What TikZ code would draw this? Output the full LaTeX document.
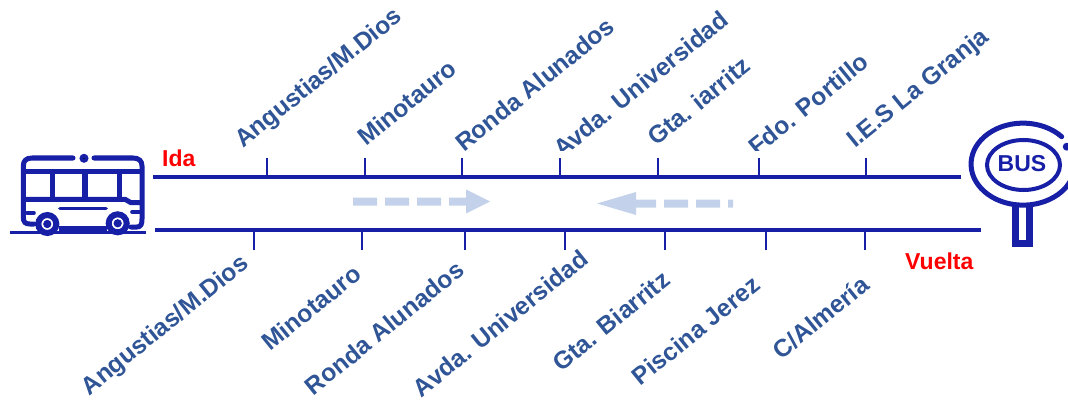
\documentclass[tikz,border=0pt]{standalone}
\usepackage{fontspec}
\setmainfont{Liberation Sans}
\definecolor{road}{HTML}{161FA6}
\definecolor{lbl}{HTML}{2F5597}
\definecolor{arw}{HTML}{C3D2EA}
\tikzset{
 road/.style={draw=road,line width=3.6pt},
 tick/.style={draw=road,line width=1.8pt},
 icon/.style={draw=road,line width=5pt,line cap=round,line join=round},
 stopname/.style={text=lbl,font=\fontsize{24.6}{27}\selectfont\bfseries,inner sep=0pt},
 upname/.style={stopname,rotate=39,anchor=base west},
 downname/.style={stopname,rotate=39,anchor=base east},
 dir/.style={text=red,font=\fontsize{23}{25}\selectfont\bfseries,inner sep=0pt,anchor=base west},
 flow/.style={fill=arw,draw=none}
}
\begin{document}
\begin{tikzpicture}[x=1pt,y=-1pt]
\useasboundingbox (0,0) rectangle (1068,401);
% upper labels
\foreach \n/\x/\y/\t in {a/243/149/{Angustias/M.Dios},b/366/147/{Minotauro},c/464/153/{Ronda Alunados},d/562/159/{Avda. Universidad},e/656/147/{Gta. iarritz},f/757/157/{Fdo. Portillo},g/855/149/{I.E.S La Granja}}
  {\node[upname] (u\n) at (\x,\y) {\t};}
\fill[white] (540,151) rectangle (800,170);
% lower labels
\foreach \n/\x/\y/\t in {a/250/266/{Angustias/M.Dios},b/363/277/{Minotauro},c/466/273/{Ronda Alunados},d/590/262/{Avda. Universidad},e/672/283/{Gta. Biarritz},f/762/288/{Piscina Jerez},g/871/288/{C/Almería}}
  {\node[downname] (l\n) at (\x,\y) {\t};}
% roads
\coordinate (t0) at (153,177); \coordinate (t1) at (961,177);
\coordinate (b0) at (155,230); \coordinate (b1) at (981,230);
\draw[road] (t0) -- (t1);
\draw[road] (b0) -- (b1);
\foreach \x in {267,365,462,560,658,759,866}{
  \coordinate (ut\x) at (\x,158);
  \draw[tick] (ut\x) -- (ut\x |- t0);}
\foreach \x in {254,362,465,565,665,766,865}{
  \coordinate (lt\x) at (\x,250);
  \draw[tick] (lt\x) -- (lt\x |- b0);}
% direction labels
\node[dir] (ida) at (162,167) {Ida};
\node[dir] (vuelta) at (905,269) {Vuelta};
% flow arrows
\fill[flow] (353,197.5) rectangle (377,205.5) (385,197.5) rectangle (409,205.5) (417,197.5) rectangle (441,205.5);
\fill[flow] (449,197.5) -- (466,197.5) -- (466,189.5) -- (490,201.5) -- (466,213.5) -- (466,205.5) -- (449,205.5) -- cycle;
\fill[flow] (656,199.5) -- (636,199.5) -- (636,192) -- (597,203.5) -- (636,215) -- (636,207.5) -- (656,207.5) -- cycle;
\fill[flow] (664,199.5) rectangle (688,207.5) (696,199.5) rectangle (720,207.5) (728,199.5) rectangle (733,207.5);
% bus
\draw[icon] (73,158) -- (32,158) .. controls (26,158) and (23.3,161) .. (23.3,166) -- (23.3,217) .. controls (23.3,222) and (25,224) .. (30,224) -- (34,224);
\draw[icon] (94,158) -- (133,158) .. controls (139,158) and (142,161) .. (142,166) -- (142,219) .. controls (142,224) and (141,227) .. (137,227) -- (131,227);
\fill[road] (84,158.3) circle (2.6);
\draw[icon,line cap=butt] (23.3,171.7) -- (142,171.7);
\draw[icon,line cap=butt,line join=miter] (23.3,199.3) -- (125,199.3) -- (131,202.7) -- (142,202.7);
\draw[icon,line cap=butt,line width=5.4pt] (52.7,171.7) -- (52.7,199.3) (85,171.7) -- (85,199.3) (119.3,171.7) -- (119.3,199.3);
\draw[icon,line width=3.8pt] (60,208.5) -- (106,208.5);
\draw[icon,line width=3.6pt] (27,213) -- (34,213) (132,212) -- (141,212);
\draw[icon,line cap=butt] (59,228) -- (107,228);
\draw[road,line width=6pt] (47.3,224) circle (9) (117.7,223.3) circle (9);
\fill[road] (47.3,224) circle (2.2) (117.7,223.3) circle (2.2);
\draw[road,line width=3.6pt] (10,232.5) -- (146,232.5);
% bus stop
\draw[road,line width=5pt,line cap=round] (1061.7,136.7) arc[start angle=-42,end angle=-342,x radius=52,y radius=41];
\fill[road] (1066.7,146.7) circle (2);
\draw[road,line width=4pt] (1023.5,165) ellipse (36.5 and 25);
\node[inner sep=0pt,text=road,font=\fontsize{23}{26}\selectfont\bfseries] (bus) at (1022,164) {BUS};
\draw[road,line width=7pt,line join=miter] (1015.5,204) -- (1015.5,243.5) -- (1029.5,243.5) -- (1029.5,204);
\end{tikzpicture}
\end{document}
